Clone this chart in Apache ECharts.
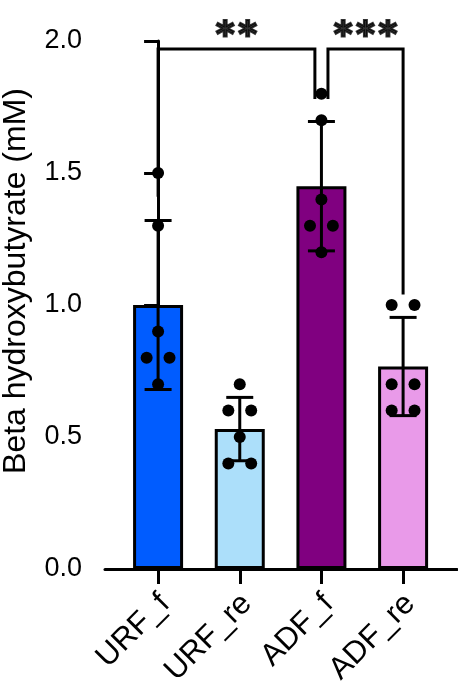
<!DOCTYPE html>
<html>
<head>
<meta charset="utf-8">
<script src="https://cdn.jsdelivr.net/npm/echarts@6/dist/echarts.min.js"></script>
<style>html,body{margin:0;padding:0;background:#fff}#c{width:458px;height:684px}</style>
</head>
<body>
<div id="c"></div>
<script>
// ---- data ----
var categories = ['URF_f', 'URF_re', 'ADF_f', 'ADF_re'];
var barColors = ['#005cff', '#acdffa', '#800080', '#e99ae9'];
var means = [1.0, 0.53, 1.45, 0.767];
var sds = [0.32, 0.12, 0.245, 0.186];
var pointsURF_f = [1.5, 1.3, 0.9, 0.8, 0.8, 0.7];
var pointsURF_re = [0.7, 0.6, 0.6, 0.5, 0.4, 0.4];
var pointsADF_f = [1.8, 1.7, 1.4, 1.3, 1.3, 1.2];
var pointsADF_re = [1.0, 1.0, 0.7, 0.7, 0.6, 0.6];
var yTicks = [0, 0.5, 1.0, 1.5, 2.0];
// significance comparisons
var sigLeft = {a: 0, b: 2, top: 1.97, legA: 1.41, legB: 1.78, label: '**'};
var sigRight = {a: 2, b: 3, top: 1.97, legA: 1.78, legB: 1.04, label: '***'};

var allPoints = [pointsURF_f, pointsURF_re, pointsADF_f, pointsADF_re];
var FONT = '"Liberation Sans", Arial, Helvetica, sans-serif';
var JIT = 0.14;   // horizontal spread for duplicate values (category units)
var NOTCH = 0.08; // gap around shared group in brackets

var scatterData = [];
allPoints.forEach(function (pts, gi) {
  var counts = {};
  pts.forEach(function (v) { counts[v] = (counts[v] || 0) + 1; });
  var seen = {};
  pts.forEach(function (v) {
    var off = 0;
    if (counts[v] > 1) { off = (seen[v] ? 1 : -1) * JIT; seen[v] = 1; }
    scatterData.push([gi + off, v]);
  });
});

var barData = means.map(function (m, i) {
  return { value: [i, m], itemStyle: { color: barColors[i] } };
});
var errData = means.map(function (m, i) { return [i, m - sds[i], m + sds[i]]; });

var bracketL = [[sigLeft.a, sigLeft.legA], [sigLeft.a, sigLeft.top], [sigLeft.b - NOTCH, sigLeft.top], [sigLeft.b - NOTCH, sigLeft.legB]];
var bracketR = [[sigRight.a + NOTCH, sigRight.legA], [sigRight.a + NOTCH, sigRight.top], [sigRight.b, sigRight.top], [sigRight.b, sigRight.legB]];
function spaced(s) { return s.split('').join('\u200A'); }
var starData = [
  { value: [(sigLeft.a + sigLeft.b - NOTCH) / 2, sigLeft.top], label: { formatter: spaced(sigLeft.label) } },
  { value: [(sigRight.a + NOTCH + sigRight.b) / 2, sigRight.top], label: { formatter: spaced(sigRight.label) } }
];

var chart = echarts.init(document.getElementById('c'), null, { renderer: 'canvas' });
chart.setOption({
  animation: false,
  backgroundColor: '#fff',
  grid: { left: 105, right: 1, top: 41, bottom: 115, containLabel: false, outerBoundsMode: 'none' },
  xAxis: {
    type: 'value', min: -0.65, max: 3.66,
    splitLine: { show: false },
    axisLine: { show: true, onZero: false, lineStyle: { color: '#000', width: 3 } },
    axisTick: { show: true, customValues: [0, 1, 2, 3], length: 15, lineStyle: { color: '#000', width: 3 } },
    axisLabel: {
      customValues: [0, 1, 2, 3], rotate: 45, margin: 23,
      align: 'right', verticalAlign: 'top', lineHeight: 20,
      fontSize: 31, color: '#000', fontFamily: FONT,
      formatter: function (v) { return categories[Math.round(v)]; }
    }
  },
  yAxis: {
    type: 'value', min: 0, max: 2, interval: 0.5,
    name: 'Beta hydroxybutyrate (mM)', nameLocation: 'middle', nameGap: 73,
    nameTextStyle: { fontSize: 32, color: '#000', fontFamily: FONT, padding: [0, 0, 0, 48] },
    splitLine: { show: false },
    axisLine: { show: true, lineStyle: { color: '#000', width: 3 } },
    axisTick: { show: true, length: 14, lineStyle: { color: '#000', width: 3 } },
    axisLabel: {
      margin: 23, fontSize: 27, color: '#000', fontFamily: FONT,
      formatter: function (v) { return v.toFixed(1); }
    }
  },
  series: [
    {
      type: 'bar', data: barData, barWidth: 50, z: 2,
      itemStyle: { borderColor: '#000', borderWidth: 3 }
    },
    {
      type: 'custom', z: 3, data: errData,
      renderItem: function (params, api) {
        var x = api.value(0);
        var lo = api.coord([x, api.value(1)]);
        var hi = api.coord([x, api.value(2)]);
        var hw = 13.5;
        var st = { stroke: '#000', lineWidth: 3 };
        return {
          type: 'group', children: [
            { type: 'line', shape: { x1: lo[0], y1: lo[1], x2: hi[0], y2: hi[1] }, style: st },
            { type: 'line', shape: { x1: lo[0] - hw, y1: lo[1], x2: lo[0] + hw, y2: lo[1] }, style: st },
            { type: 'line', shape: { x1: hi[0] - hw, y1: hi[1], x2: hi[0] + hw, y2: hi[1] }, style: st }
          ]
        };
      }
    },
    {
      type: 'scatter', z: 4, data: scatterData, symbolSize: 12,
      itemStyle: { color: '#000', opacity: 1 }
    },
    {
      type: 'line', z: 3, data: bracketL, symbol: 'none',
      lineStyle: { color: '#000', width: 3, join: 'miter' }
    },
    {
      type: 'line', z: 3, data: bracketR, symbol: 'none',
      lineStyle: { color: '#000', width: 3, join: 'miter' }
    },
    {
      type: 'scatter', z: 5, data: starData, symbolSize: 0, clip: false,
      label: {
        show: true, position: 'top', distance: -6,
        fontSize: 36, fontWeight: 'bold', color: '#000', fontFamily: '"DejaVu Sans", sans-serif',
        textBorderColor: '#000', textBorderWidth: 2
      }
    }
  ]
});
</script>
</body>
</html>
